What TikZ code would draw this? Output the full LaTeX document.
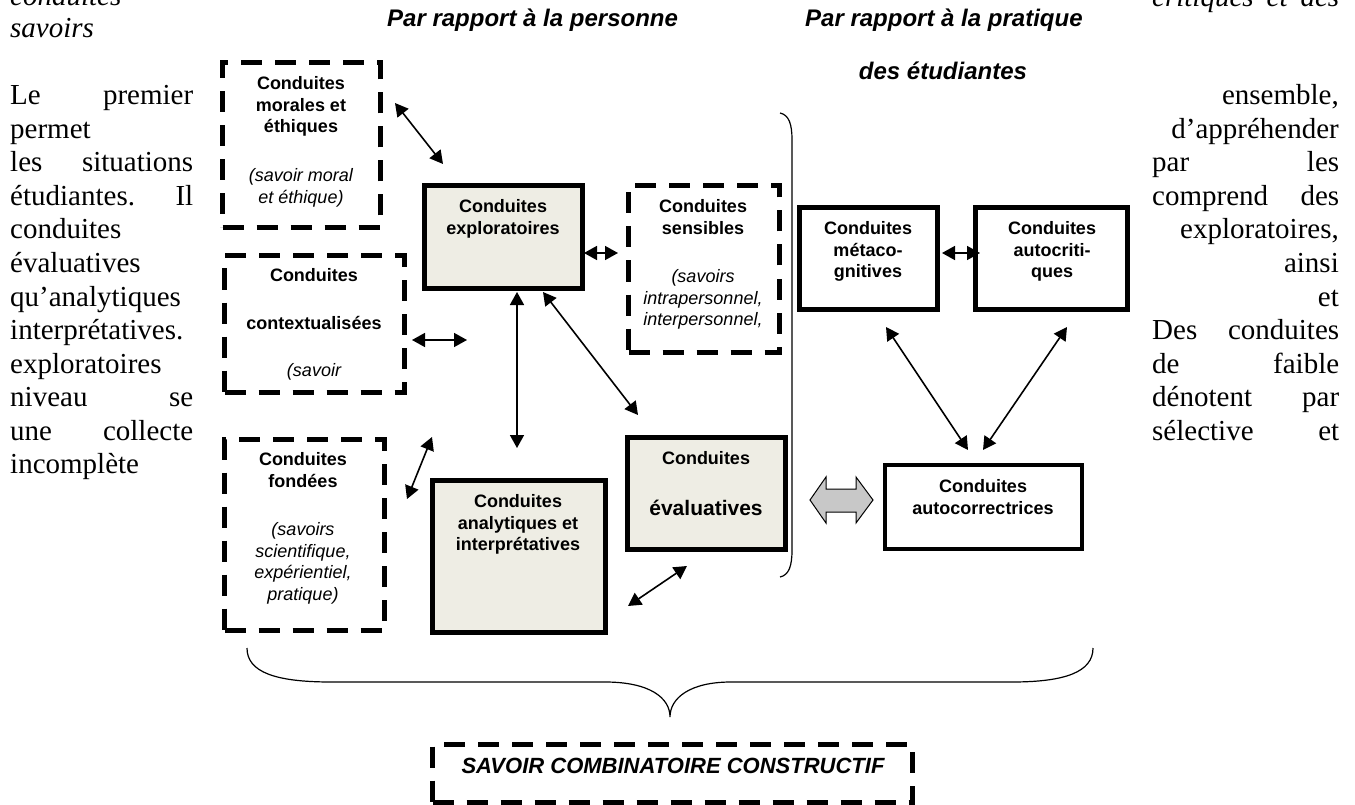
\documentclass[tikz,border=0pt]{standalone}
\usepackage{fontspec}
\setmainfont{Liberation Serif}
\newfontfamily\sansf{Liberation Sans}
\usetikzlibrary{arrows.meta}
\definecolor{boxfill}{RGB}{238,237,228}
\definecolor{bigarrow}{RGB}{200,200,200}
\newcommand\labfnt{\sansf\bfseries\fontsize{18}{21.5}\selectfont}
\newcommand\headfnt{\sansf\bfseries\itshape\fontsize{24}{28}\selectfont}
\newcommand\bodyfnt{\fontsize{29}{33.5}\selectfont}
\newcommand\just[2]{\makebox[#1pt][s]{#2}}

\begin{document}
\begin{tikzpicture}[x=1pt,y=-1pt,
  solidbox/.style={draw, line width=5pt, fill=boxfill},
  whitebox/.style={draw, line width=5pt, fill=white},
  dashbox/.style={draw, line width=5pt, dash pattern=on 21pt off 13pt},
  lab/.style={anchor=north, inner sep=0pt, align=center, font=\labfnt},
  head/.style={inner sep=0pt, font=\headfnt},
  link/.style={line width=1.6pt, {Triangle[length=13pt,width=14pt]}-{Triangle[length=13pt,width=14pt]}},
  body/.style={inner sep=0pt, font=\bodyfnt},
  brace/.style={line width=1.2pt},
]
\useasboundingbox (0,0) rectangle (1355,805);

% ---- running text around the figure ----
\node[body, anchor=base west] (c0) at (10,6) {\itshape conduites};
\node[body, anchor=base west] (c1) at (10,38) {\itshape savoirs};
\node[body, anchor=base west] (l1) at (10,105) {\just{183}{Le premier}};
\node[body, anchor=base west] (l2) at (10,138.5) {permet};
\node[body, anchor=base west] (l3) at (10,172) {\just{183}{les situations}};
\node[body, anchor=base west] (l4) at (10,205.5) {\just{183}{étudiantes. Il}};
\node[body, anchor=base west] (l5) at (10,239) {conduites};
\node[body, anchor=base west] (l6) at (10,272.5) {évaluatives};
\node[body, anchor=base west] (l7) at (10,306) {qu’analytiques};
\node[body, anchor=base west] (l8) at (10,339.5) {interprétatives.};
\node[body, anchor=base west] (l9) at (10,373) {exploratoires};
\node[body, anchor=base west] (l10) at (10,406.5) {\just{183}{niveau se}};
\node[body, anchor=base west] (l11) at (10,440) {\just{183}{une collecte}};
\node[body, anchor=base west] (l12) at (10,473.5) {incomplète};

\node[body, anchor=base west] (r0) at (1152,7) {\itshape\just{187}{critiques et des}};
\node[body, anchor=base east] (r1) at (1339,105) {ensemble,};
\node[body, anchor=base east] (r2) at (1339,138.5) {d’appréhender};
\node[body, anchor=base west] (r3) at (1152,172) {\just{187}{par les}};
\node[body, anchor=base west] (r4) at (1152,205.5) {\just{187}{comprend des}};
\node[body, anchor=base east] (r5) at (1339,239) {exploratoires,};
\node[body, anchor=base east] (r6) at (1339,272.5) {ainsi};
\node[body, anchor=base east] (r7) at (1339,306) {et};
\node[body, anchor=base west] (r8) at (1152,339.5) {\just{187}{Des conduites}};
\node[body, anchor=base west] (r9) at (1152,373) {\just{187}{de faible}};
\node[body, anchor=base west] (r10) at (1152,406.5) {\just{187}{dénotent par}};
\node[body, anchor=base west] (r11) at (1152,440) {\just{187}{sélective et}};

% ---- headings ----
\node[head, anchor=base west] (hpers) at (387,27) {Par rapport à la personne};
\node[head, anchor=base west] (hprat) at (805,27) {Par rapport à la pratique};
\node[head, anchor=base] (hetud) at (943,80) {des étudiantes};

% ---- boxes ----
\node[dashbox, minimum width=158pt, minimum height=165pt] (morales) at (301.5,145) {};
\node[dashbox, minimum width=180pt, minimum height=137pt] (context) at (314.5,324) {};
\node[dashbox, minimum width=160pt, minimum height=191pt] (fondees) at (304.5,535) {};
\node[solidbox, minimum width=158pt, minimum height=103pt] (explor) at (503.5,237) {};
\node[dashbox, minimum width=151pt, minimum height=167pt] (sensib) at (704,269) {};
\node[solidbox, minimum width=173pt, minimum height=152pt] (analyt) at (519,556.5) {};
\node[solidbox, minimum width=158pt, minimum height=112pt] (evalu) at (706.5,493.5) {};
\node[whitebox, minimum width=138pt, minimum height=102pt] (metaco) at (868.5,258.5) {};
\node[whitebox, minimum width=152pt, minimum height=102pt] (autocrit) at (1051.5,258.5) {};
\node[whitebox, line width=4.5pt, minimum width=197pt, minimum height=84pt] (autocorr) at (983.5,507) {};
\node[dashbox, minimum width=480pt, minimum height=58pt] (savoir) at (672.5,773.5) {};

% ---- box texts ----
\node[lab] (tmorales) at (301,76.7) {Conduites\\morales et\\éthiques\\[27.5pt]{\mdseries\itshape (savoir moral}\\{\mdseries\itshape et éthique)}};
\node[lab] (tcontext) at (314,268.7) {Conduites\\[26.5pt]contextualisées\\[25.5pt]{\mdseries\itshape (savoir}};
\node[lab] (tfondees) at (303,452.7) {Conduites\\fondées\\[27pt]{\mdseries\itshape (savoirs}\\{\mdseries\itshape scientifique,}\\{\mdseries\itshape expérientiel,}\\{\mdseries\itshape pratique)}};
\node[lab] (texplor) at (503,199.7) {Conduites\\exploratoires};
\node[lab] (tsensib) at (703,199.7) {Conduites\\sensibles\\[27pt]{\mdseries\itshape (savoirs}\\{\mdseries\itshape intrapersonnel,}\\{\mdseries\itshape interpersonnel,}};
\node[lab] (tanalyt) at (518,494.7) {Conduites\\analytiques et\\interprétatives};
\node[lab] (tevalu1) at (706,451.7) {Conduites};
\node[anchor=base, inner sep=0pt, font=\sansf\bfseries\fontsize{21}{25}\selectfont] (tevalu2) at (706,515) {évaluatives};
\node[lab] (tmetaco) at (868,221.7) {Conduites\\métaco-\\gnitives};
\node[lab] (tautocrit) at (1052,221.7) {Conduites\\autocriti-\\ques};
\node[lab] (tautocorr) at (983,479.7) {Conduites\\autocorrectrices};
\node[anchor=base, inner sep=0pt, font=\sansf\bfseries\itshape\fontsize{22}{26}\selectfont] (tsavoir) at (673,773) {SAVOIR COMBINATOIRE CONSTRUCTIF};

% ---- connector end points ----
\coordinate (a1s) at (395,103);  \coordinate (a1e) at (443,164);
\coordinate (a2s) at (412,340);  \coordinate (a2e) at (467,340);
\coordinate (a3s) at (584,253);  \coordinate (a3e) at (618,253);
\coordinate (a4s) at (517,292);  \coordinate (a4e) at (517,448);
\coordinate (a5s) at (543,292);  \coordinate (a5e) at (638,415);
\coordinate (a6s) at (407,499);  \coordinate (a6e) at (432,437);
\coordinate (a7s) at (628,606);  \coordinate (a7e) at (687,566);
\coordinate (a8s) at (942,253);  \coordinate (a8e) at (980,253);
\coordinate (a9s) at (886,327);  \coordinate (a9e) at (968,450);
\coordinate (a10s) at (1067,327); \coordinate (a10e) at (983,450);

% ---- double-headed connectors ----
\draw[link] (a1s) -- (a1e);
\draw[link] (a2s) -- (a2e);
\draw[link] (a3s) -- (a3e);
\draw[link] (a4s) -- (a4e);
\draw[link] (a5s) -- (a5e);
\draw[link] (a6s) -- (a6e);
\draw[link] (a7s) -- (a7e);
\draw[link] (a8s) -- (a8e);
\draw[link] (a9s) -- (a9e);
\draw[link] (a10s) -- (a10e);

% ---- broad grey two-way arrow ----
\draw[fill=bigarrow, line width=1pt, line join=miter]
  (810,500) -- (826,477) -- (826,489) -- (856,489) -- (856,477) -- (873,500)
  -- (856,523) -- (856,512) -- (826,512) -- (826,523) -- cycle;

% ---- right bracket closing the personal group ----
\draw[brace] (780,113) .. controls (789,115) and (792,124) .. (792,140)
  -- (792,550) .. controls (792,566) and (789,575) .. (780,577);

% ---- bottom curly brace ----
\draw[brace] (247,648) .. controls (247,672) and (275,682) .. (331,682)
  -- (605,682) .. controls (650,682) and (670,698) .. (670,717)
  .. controls (670,698) and (690,682) .. (731,682)
  -- (1012,682) .. controls (1065,682) and (1093,672) .. (1093,648);
\end{tikzpicture}
\end{document}
